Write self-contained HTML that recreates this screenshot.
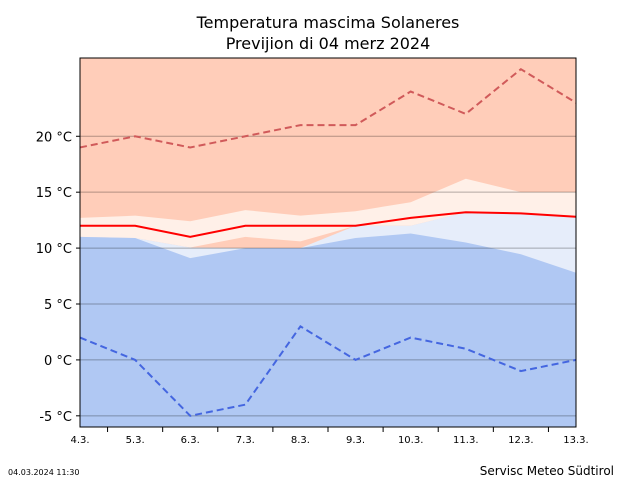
<!DOCTYPE html>
<html><head><meta charset="utf-8"><style>
body{margin:0;background:#fff;}
svg{display:block;font-family:"DejaVu Sans","Liberation Sans",sans-serif;}
</style></head><body>
<svg id="chart" width="640" height="480">
<text x="328" y="28" text-anchor="middle" font-size="16">Temperatura mascima Solaneres</text>
<text x="328" y="49" text-anchor="middle" font-size="16">Previjion di 04 merz 2024</text>
<g id="plot"></g>
<text x="8" y="475" font-size="8">04.03.2024 11:30</text>
<text x="614" y="475" text-anchor="end" font-size="12">Servisc Meteo Südtirol</text>
</svg>
<script>
const days = ["4.3.","5.3.","6.3.","7.3.","8.3.","9.3.","10.3.","11.3.","12.3.","13.3."];
const yTicks = [-5,0,5,10,15,20];
const pinkTop = [12.7,12.9,12.4,13.4,12.9,13.3,14.1,16.2,15.0,15.0];
const pinkBot = [11.0,10.9,10.05,11.0,10.6,12.0,12.0,13.2,13.1,12.8];
const lightBlueTop = [11.0,10.9,10.05,10,10,12.0,12.0,13.2,13.1,12.8];
const blueTop = [11.0,10.9,9.1,10,10,10.9,11.3,10.5,9.45,7.8];
const meanMax = [12,12,11,12,12,12,12.7,13.2,13.1,12.8];
const upperMax = [19,20,19,20,21,21,24,22,26,23];
const lowerMax = [2,0,-5,-4,3,0,2,1,-1,0];

const L=80,R=576,T=58,B=427,yMin=-6,yMax=27;
const xs=i=>L+i*(R-L)/(days.length-1);
const ys=v=>B-(v-yMin)*(B-T)/(yMax-yMin);
const NS="http://www.w3.org/2000/svg";
const g=document.getElementById('plot');
function mk(tag,attrs){const e=document.createElementNS(NS,tag);for(const k in attrs)e.setAttribute(k,attrs[k]);g.appendChild(e);return e;}
function pts(arr){return arr.map((v,i)=>xs(i)+","+ys(v)).join(" ");}
function band(top,bot){return pts(top)+" "+bot.map((v,i)=>[i,v]).reverse().map(([i,v])=>xs(i)+","+ys(v)).join(" ");}

let e=mk('rect',{x:L,y:T,width:R-L,height:B-T,fill:'#ffcdb9'});


e=mk('polygon',{points:band(pinkTop,pinkBot),fill:'#fff0e8'});


const bottom=days.map(()=>yMin);
e=mk('polygon',{points:band(lightBlueTop,bottom),fill:'#e6edfa'});


e=mk('polygon',{points:band(blueTop,bottom),fill:'#b0c8f3'});


yTicks.forEach(v=>{
  let l=mk('line',{x1:L,x2:R,y1:ys(v),y2:ys(v),stroke:'#000','stroke-opacity':0.3,'stroke-width':1});
  
  
  let t=mk('line',{x1:L-4,x2:L,y1:ys(v),y2:ys(v),stroke:'#000'});
  
  
  let tx=mk('text',{x:L-8,y:ys(v)+5,'text-anchor':'end','font-size':13});
  tx.textContent=v+" °C";
  
  
});
e=mk('polyline',{points:pts(upperMax),fill:'none',stroke:'#d05a5a','stroke-width':2,'stroke-dasharray':'7,4'});


e=mk('polyline',{points:pts(lowerMax),fill:'none',stroke:'#4466e0','stroke-width':2,'stroke-dasharray':'7,4'});


e=mk('polyline',{points:pts(meanMax),fill:'none',stroke:'#ff0000','stroke-width':2});


e=mk('rect',{x:L,y:T,width:R-L,height:B-T,fill:'none',stroke:'#000','stroke-width':1});


days.forEach((d,i)=>{
  let tx=mk('text',{x:xs(i),y:443,'text-anchor':'middle','font-size':10});
  tx.textContent=d;
  
  
  if(i<days.length-1){
    let t=mk('line',{x1:(xs(i)+xs(i+1))/2,x2:(xs(i)+xs(i+1))/2,y1:B,y2:B+5,stroke:'#000'});
    
    
  }
});
</script>
</body></html>
